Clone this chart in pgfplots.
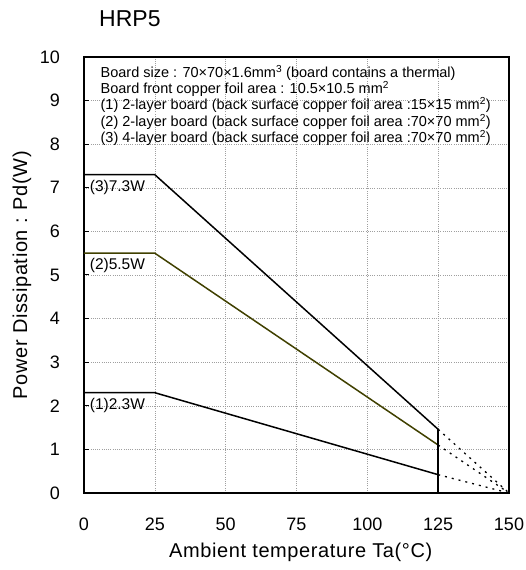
\documentclass[border=0pt]{standalone}
\usepackage{pgfplots}
\pgfplotsset{compat=1.18}
\usepackage{fontspec}
\setmainfont{Liberation Sans}
\definecolor{olive2}{RGB}{64,64,0}
\begin{document}
\begin{tikzpicture}
\begin{axis}[
  width=425pt, height=436pt, scale only axis,
  xmin=0, xmax=150, ymin=0, ymax=10,
  xtick={0,25,50,75,100,125,150},
  ytick={0,1,...,10},
  grid=major,
  major grid style={gray!75, dash pattern=on 1pt off 1.2pt, line width=0.5pt},
  axis line style={black, line width=1.8pt},
  tick style={black, line width=1pt},
  tick align=inside,
  ytick pos=left,
  xtick style={draw=none},
  major tick length=5pt,
  ticklabel style={font=\fontsize{18}{18}\selectfont, inner sep=0pt},
  /pgf/number format/assume math mode=true,
  xticklabel style={anchor=north, yshift=-25pt},
  yticklabel style={anchor=east, xshift=-24pt},
  xlabel={Ambient temperature Ta(°C)},
  ylabel={Power Dissipation : Pd(W)},
  label style={font=\fontsize{20}{20}\selectfont\addfontfeatures{LetterSpace=3}},
  xlabel style={at={(axis description cs:0.51,-0.135)}, anchor=center},
  ylabel style={at={(axis description cs:-0.146,0.5)}, anchor=center},
  clip=false,
]
\addplot[black, line width=1.5pt] coordinates {(0,7.3)(25,7.3)(125,1.46)};
\addplot[olive2, line width=1.5pt] coordinates {(0,5.5)(25,5.5)(125,1.1)};
\addplot[black, line width=1.5pt] coordinates {(0,2.3)(25,2.3)(125,0.42)};
\addplot[black, line width=1.8pt] coordinates {(125,0)(125,1.46)};
\addplot[black, line width=1.3pt, dash pattern=on 2pt off 5pt] coordinates {(125,1.46)(150,0)};
\addplot[black, line width=1.3pt, dash pattern=on 2pt off 5pt] coordinates {(125,1.1)(150,0)};
\addplot[black, line width=1.3pt, dash pattern=on 2pt off 5pt] coordinates {(125,0.42)(150,0)};
\node[anchor=north west, font=\fontsize{15.5}{15.5}\selectfont, inner sep=0pt] at (axis cs:2,7.18) {(3)7.3W};
\node[anchor=north west, font=\fontsize{15.5}{15.5}\selectfont, inner sep=0pt] at (axis cs:2,5.38) {(2)5.5W};
\node[anchor=north west, font=\fontsize{15.5}{15.5}\selectfont, inner sep=0pt] at (axis cs:2,2.18) {(1)2.3W};
\node[anchor=north west, font=\fontsize{14.5}{13.8}\selectfont, align=left, inner sep=0pt] at (axis cs:5.8,9.82) {%
Board size : 70×70×1.6mm\textsuperscript{3} (board contains a thermal)\\
Board front copper foil area : 10.5×10.5 mm\textsuperscript{2}\\
(1) 2-layer board (back surface copper foil area :15×15 mm\textsuperscript{2})\\
(2) 2-layer board (back surface copper foil area :70×70 mm\textsuperscript{2})\\
(3) 4-layer board (back surface copper foil area :70×70 mm\textsuperscript{2})};
\node[anchor=base west, font=\fontsize{23}{23}\selectfont, inner sep=0pt] at ([xshift=15pt,yshift=30pt]rel axis cs:0,1) {HRP5};
\end{axis}
\pgfresetboundingbox
\path[use as bounding box] (-84pt,-77pt) rectangle (442pt,493pt);
\end{tikzpicture}
\end{document}
